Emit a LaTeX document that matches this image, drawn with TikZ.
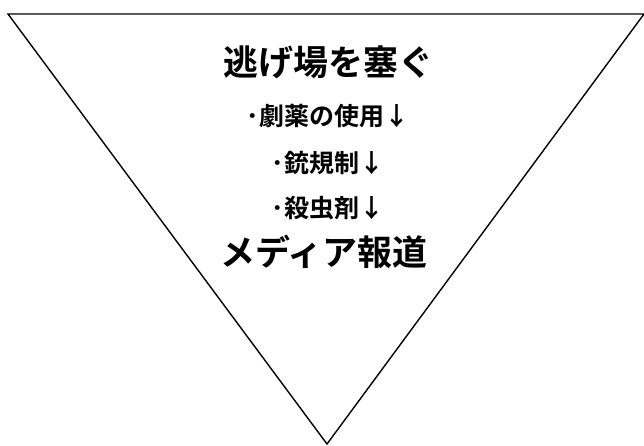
\documentclass[tikz,border=0pt]{standalone}
\usepackage{fontspec}
\newfontfamily\jpfont{Noto Sans CJK JP}[BoldFont={* Bold}]
\usetikzlibrary{positioning}

\begin{document}
\begin{tikzpicture}[x=1pt,y=-1pt]
 \useasboundingbox (0,0) rectangle (644,445);
 \tikzset{big/.style={font=\jpfont\bfseries\fontsize{35}{38}\selectfont},
          item/.style={font=\jpfont\bfseries\fontsize{25}{28}\selectfont}}
 \draw[line width=1.4pt,line join=miter] (8,14) -- (644,14) -- (327,444) -- cycle;
 \node[big] (title) at (328,62) {逃げ場を塞ぐ};
 \node[item] (drug) at (328,116) {･劇薬の使用↓};
 \node[item] (gun) at (328,163) {･銃規制↓};
 \node[item] (pest) at (328,208) {･殺虫剤↓};
 \node[big] (media) at (324,252) {メディア報道};
\end{tikzpicture}
\end{document}
